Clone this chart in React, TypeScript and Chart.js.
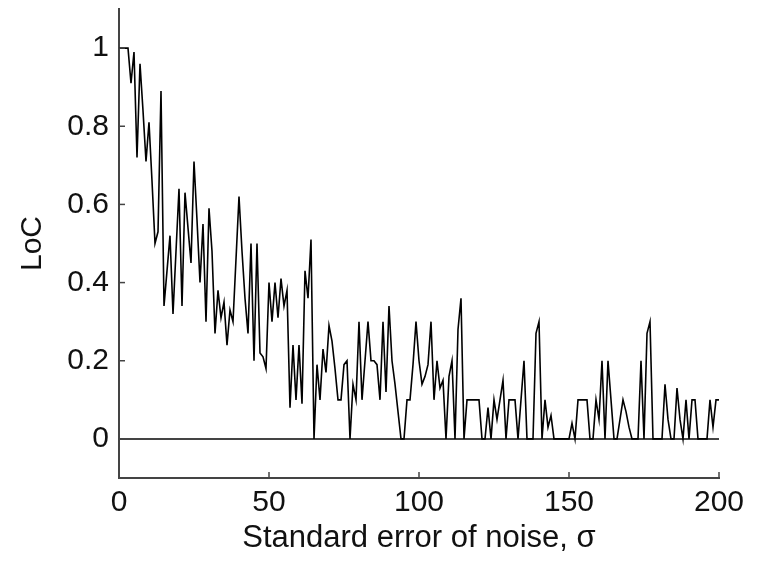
import React, { useEffect, useRef } from "react";
import { Chart, registerables } from "chart.js";

Chart.register(...registerables);

// LoC values for sigma = 0, 1, 2, ..., 200
const loc: number[] = [
  1.0, 1.0, 1.0, 1.0, 0.91, 0.99, 0.72, 0.96, 0.84, 0.71,
  0.81, 0.66, 0.5, 0.53, 0.89, 0.34, 0.43, 0.52, 0.32, 0.48,
  0.64, 0.34, 0.63, 0.54, 0.45, 0.71, 0.56, 0.4, 0.55, 0.3,
  0.59, 0.48, 0.27, 0.38, 0.31, 0.35, 0.24, 0.33, 0.3, 0.46,
  0.62, 0.48, 0.36, 0.27, 0.5, 0.2, 0.5, 0.22, 0.21, 0.18,
  0.4, 0.3, 0.4, 0.31, 0.41, 0.34, 0.38, 0.08, 0.24, 0.1,
  0.24, 0.09, 0.43, 0.36, 0.51, 0.0, 0.19, 0.1, 0.23, 0.17,
  0.29, 0.25, 0.18, 0.1, 0.1, 0.19, 0.2, 0.0, 0.14, 0.1,
  0.3, 0.1, 0.2, 0.3, 0.2, 0.2, 0.19, 0.1, 0.3, 0.12,
  0.34, 0.2, 0.14, 0.07, 0.0, 0.0, 0.1, 0.1, 0.19, 0.3,
  0.2, 0.14, 0.16, 0.19, 0.3, 0.1, 0.2, 0.13, 0.15, 0.0,
  0.16, 0.2, 0.0, 0.28, 0.36, 0.0, 0.1, 0.1, 0.1, 0.1,
  0.1, 0.0, 0.0, 0.08, 0.0, 0.1, 0.05, 0.1, 0.15, 0.0,
  0.1, 0.1, 0.1, 0.0, 0.1, 0.2, 0.0, 0.0, 0.0, 0.27,
  0.3, 0.0, 0.1, 0.03, 0.06, 0.0, 0.0, 0.0, 0.0, 0.0,
  0.0, 0.04, 0.0, 0.1, 0.1, 0.1, 0.1, 0.0, 0.0, 0.1,
  0.05, 0.2, 0.0, 0.2, 0.1, 0.0, 0.0, 0.05, 0.1, 0.07,
  0.03, 0.0, 0.0, 0.0, 0.2, 0.0, 0.27, 0.3, 0.0, 0.0,
  0.0, 0.0, 0.14, 0.05, 0.0, 0.0, 0.13, 0.05, 0.0, 0.1,
  0.0, 0.1, 0.1, 0.0, 0.0, 0.0, 0.0, 0.1, 0.03, 0.1,
  0.1,
];
const sigma: number[] = loc.map((_, i) => i);

const xTicks = [0, 50, 100, 150, 200];
const yTicks = [0, 0.2, 0.4, 0.6, 0.8, 1];
const xRange = [0, 200];
const yRange = [-0.1, 1.1];
const xTitle = "Standard error of noise, σ";
const yTitle = "LoC";

const FONT_FAMILY = "'Liberation Sans', Arial, Helvetica, sans-serif";
const AXIS_COLOR = "#444";
const TEXT_COLOR = "#111";

export default function App() {
  const ref = useRef<HTMLCanvasElement>(null);

  useEffect(() => {
    const canvas = ref.current;
    if (!canvas) return;
    const font = { family: FONT_FAMILY, size: 30 };
    const titleFont = { family: FONT_FAMILY, size: 31 };

    const inwardTicks = {
      id: "inwardTicks",
      afterDatasetsDraw(chart: any) {
        const { ctx, chartArea, scales } = chart;
        ctx.save();
        ctx.strokeStyle = AXIS_COLOR;
        ctx.lineWidth = 1.5;
        for (const v of xTicks) {
          const px = scales.x.getPixelForValue(v);
          ctx.beginPath();
          ctx.moveTo(px, chartArea.bottom);
          ctx.lineTo(px, chartArea.bottom - 6);
          ctx.stroke();
        }
        for (const v of yTicks) {
          const py = scales.y.getPixelForValue(v);
          ctx.beginPath();
          ctx.moveTo(chartArea.left, py);
          ctx.lineTo(chartArea.left + 6, py);
          ctx.stroke();
        }
        ctx.restore();
      },
    };

    const chart = new Chart(canvas, {
      type: "line",
      data: {
        datasets: [
          {
            data: sigma.map((s, i) => ({ x: s, y: loc[i] })),
            borderColor: "#000",
            borderWidth: 1.6,
            pointRadius: 0,
            tension: 0,
            fill: false,
          },
          {
            data: [
              { x: sigma[0], y: 0 },
              { x: sigma[sigma.length - 1], y: 0 },
            ],
            borderColor: "#444",
            borderWidth: 2,
            pointRadius: 0,
            fill: false,
          },
        ],
      },
      options: {
        responsive: false,
        animation: false,
        devicePixelRatio: 1,
        layout: { padding: { top: 9, right: 44, left: 0, bottom: 0 } },
        plugins: { legend: { display: false }, tooltip: { enabled: false } },
        scales: {
          x: {
            type: "linear",
            min: xRange[0],
            max: xRange[1],
            afterBuildTicks: (s: any) => {
              s.ticks = xTicks.map((v) => ({ value: v }));
            },
            afterFit: (s: any) => {
              s.height = 84;
              s.paddingLeft = 0;
              s.paddingRight = 0;
            },
            grid: { display: false, drawTicks: false },
            border: { display: true, color: AXIS_COLOR, width: 2 },
            ticks: {
              padding: 7,
              font,
              color: TEXT_COLOR,
              maxRotation: 0,
              autoSkip: false,
              callback: (v: any) => String(v),
            },
            title: {
              display: true,
              text: xTitle,
              font: titleFont,
              color: TEXT_COLOR,
              padding: { top: 0, bottom: 5 },
            },
          },
          y: {
            type: "linear",
            min: yRange[0],
            max: yRange[1],
            afterBuildTicks: (s: any) => {
              s.ticks = yTicks.map((v) => ({ value: v }));
            },
            afterFit: (s: any) => {
              s.width = 119;
              s.paddingTop = 0;
              s.paddingBottom = 0;
            },
            grid: { display: false, drawTicks: false },
            border: { display: true, color: AXIS_COLOR, width: 2 },
            ticks: {
              padding: 10,
              font,
              color: TEXT_COLOR,
              autoSkip: false,
              callback: (v: any) => String(Number(Number(v).toFixed(1))),
            },
            title: {
              display: true,
              text: yTitle,
              font,
              color: TEXT_COLOR,
              padding: { top: 15, bottom: 0 },
            },
          },
        },
      },
      plugins: [inwardTicks],
    } as any);

    return () => chart.destroy();
  }, []);

  return (
    <div
      style={{
        position: "fixed",
        left: 0,
        top: 0,
        width: 763,
        height: 562,
        background: "#fff",
      }}
    >
      <canvas ref={ref} width={763} height={562} style={{ display: "block" }} />
    </div>
  );
}
